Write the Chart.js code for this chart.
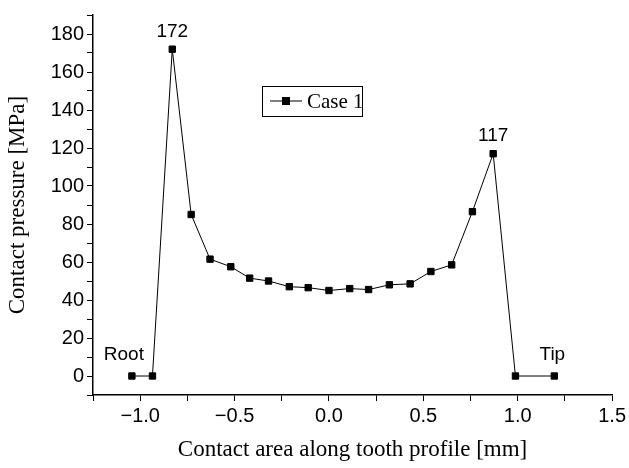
<!DOCTYPE html><html><head><script src="https://cdn.jsdelivr.net/npm/chart.js@4"></script>
<style>body{margin:0;background:#fff}#w{width:629px;height:468px}</style></head><body><div id="w"><canvas id="c"></canvas></div>
<script>
const xs=[-1.044,-0.935,-0.83,-0.73,-0.63,-0.52,-0.42,-0.32,-0.21,-0.11,0.0,0.11,0.21,0.32,0.43,0.54,0.65,0.76,0.87,0.988,1.194];
const ys=[0,0,172,85,61.5,57.5,51.5,50,47,46.5,45,46,45.5,48,48.5,55,58.5,86.5,117,0,0];
const seriesName="Case 1";
const notes=[{i:2,t:"172",dx:0,dy:-16},{i:18,t:"117",dx:0,dy:-16},{i:0,t:"Root",dx:-8,dy:-20},{i:20,t:"Tip",dx:-2,dy:-20}];
const ser="'Times New Roman','Liberation Serif',serif";
const ann={id:'ann',afterDatasetsDraw(ch){const c=ch.ctx,x=ch.scales.x,y=ch.scales.y;c.save();c.font="19px 'Liberation Sans',Arial";c.fillStyle='#000';c.textAlign='center';c.textBaseline='bottom';
notes.forEach(n=>c.fillText(n.t,x.getPixelForValue(xs[n.i])+n.dx,y.getPixelForValue(ys[n.i])+n.dy+8));
const lx=262,ly=86;c.fillStyle='#fff';c.fillRect(lx,ly,100,31);c.fillStyle='#000';c.strokeStyle='#000';c.lineWidth=1;c.strokeRect(lx+0.5,ly+0.5,100,30);
c.beginPath();c.moveTo(lx+8,ly+15);c.lineTo(lx+40,ly+15);c.stroke();c.fillRect(lx+20,ly+11,8,8);
c.font="21px "+ser;c.textAlign='left';c.textBaseline='middle';c.fillText(seriesName,lx+45,ly+16);c.restore();}};
new Chart(document.getElementById('c'),{type:'line',data:{datasets:[{data:xs.map((v,i)=>({x:v,y:ys[i]})),borderColor:'#000',backgroundColor:'#000',borderWidth:1,pointStyle:'rect',pointRadius:4.5,tension:0}]},
options:{responsive:true,maintainAspectRatio:false,animation:false,layout:{padding:{top:13,right:16}},
plugins:{legend:{display:false},tooltip:{enabled:false}},
scales:{x:{type:'linear',min:-1.25,max:1.5,border:{color:'#000',width:1.5},grid:{drawOnChartArea:false,color:'#000',tickLength:6},
afterFit(s){s.height=73;},
ticks:{stepSize:0.25,autoSkip:false,maxRotation:0,color:'#000',font:{size:20,family:"'Liberation Sans',Arial"},callback:v=>Math.abs(v*2-Math.round(v*2))<1e-6?v.toFixed(1).replace('-','\u2212'):''},
title:{display:true,text:'Contact area along tooth profile [mm]',color:'#000',font:{size:23,family:ser},padding:{top:0}}},
y:{min:-10,max:190,border:{color:'#000',width:1.5},grid:{drawOnChartArea:false,color:'#000',tickLength:6},
afterFit(s){s.width=93;},
ticks:{stepSize:10,autoSkip:false,color:'#000',font:{size:20,family:"'Liberation Sans',Arial"},callback:v=>(v>=0&&v<=180&&Math.round(v)%20===0)?String(Math.round(v)):''},
title:{display:true,text:'Contact pressure [MPa]',color:'#000',font:{size:23,family:ser},padding:{bottom:2}}}}},plugins:[ann]});
</script></body></html>
